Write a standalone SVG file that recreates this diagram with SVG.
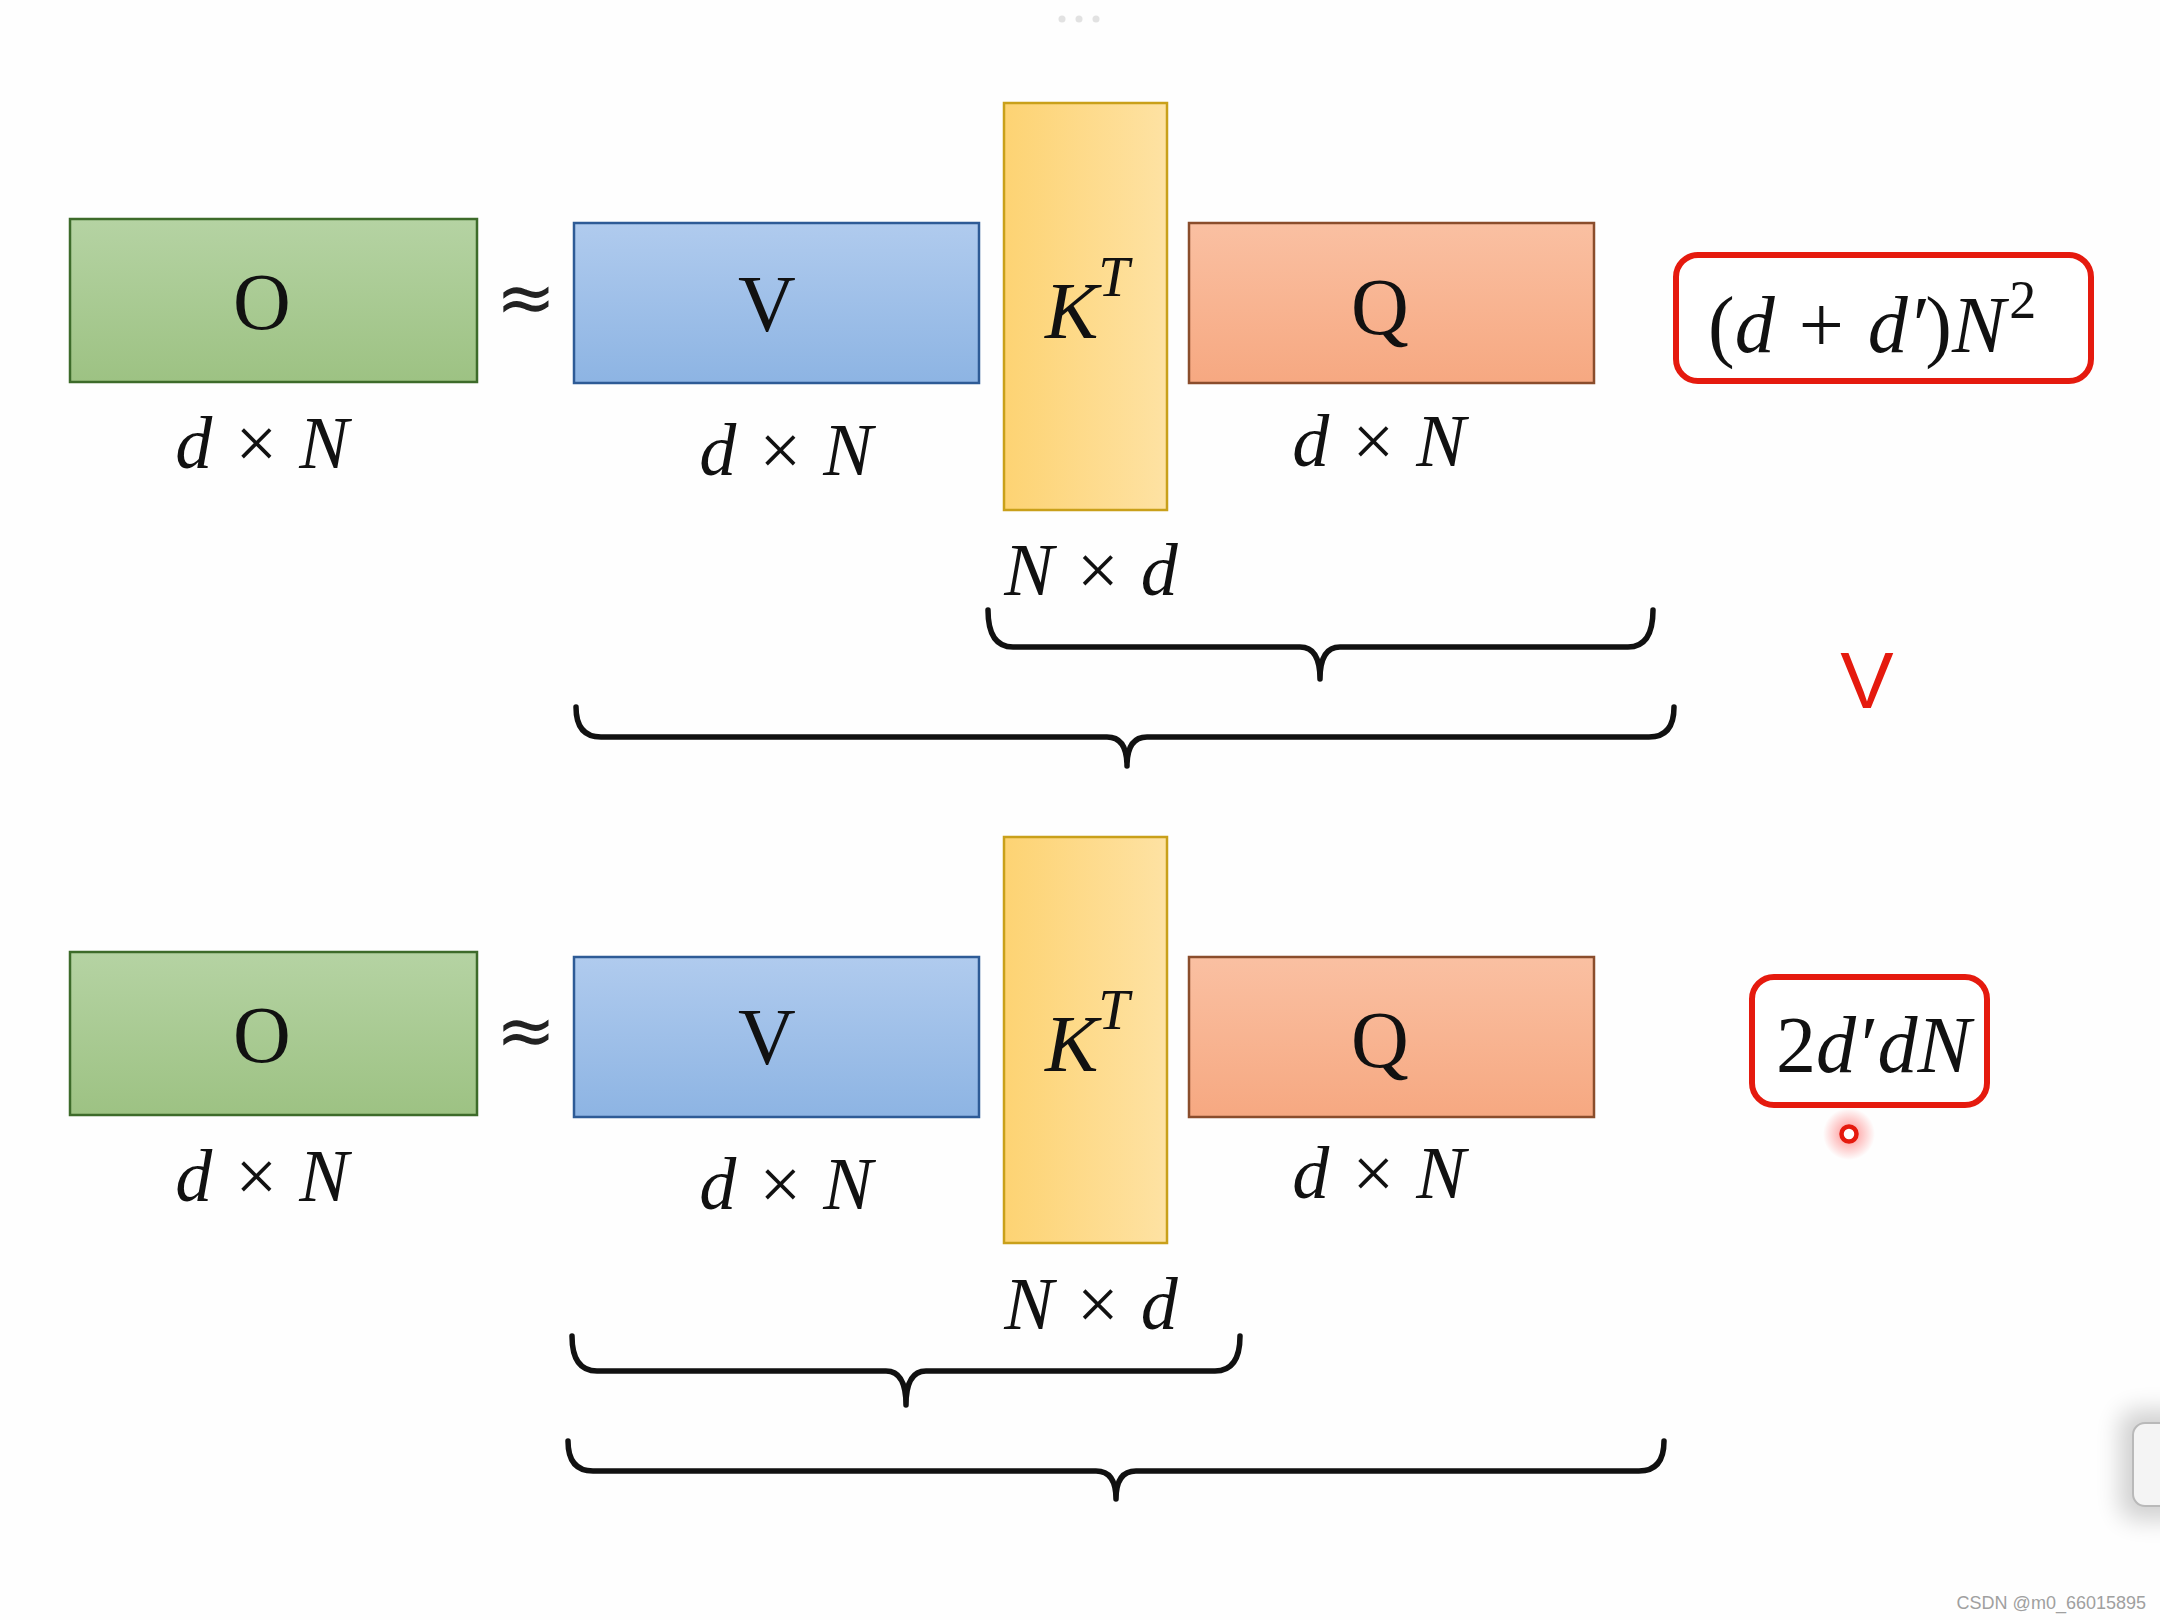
<svg xmlns="http://www.w3.org/2000/svg" width="2160" height="1620" viewBox="0 0 2160 1620">
<defs>
<linearGradient id="gG" x1="0" y1="0" x2="0" y2="1"><stop offset="0" stop-color="#b5d3a3"/><stop offset="1" stop-color="#9dc283"/></linearGradient>
<linearGradient id="gB" x1="0" y1="0" x2="0" y2="1"><stop offset="0" stop-color="#b0cbee"/><stop offset="1" stop-color="#8db4e3"/></linearGradient>
<linearGradient id="gY" x1="0" y1="0" x2="1" y2="0"><stop offset="0" stop-color="#fdd373"/><stop offset="1" stop-color="#fee2a3"/></linearGradient>
<linearGradient id="gO" x1="0" y1="0" x2="0" y2="1"><stop offset="0" stop-color="#fac0a2"/><stop offset="1" stop-color="#f6a881"/></linearGradient>
<radialGradient id="glow"><stop offset="0" stop-color="#ff3030" stop-opacity="0.55"/><stop offset="1" stop-color="#ff3030" stop-opacity="0"/></radialGradient>
<filter id="sh" x="-2" y="-1" width="5" height="3"><feGaussianBlur stdDeviation="12"/></filter>
<style>
.g{fill:url(#gG);stroke:#3d6b2a;stroke-width:2.5}
.b{fill:url(#gB);stroke:#2e5b96;stroke-width:2.5}
.y{fill:url(#gY);stroke:#c9a01a;stroke-width:2.5}
.o{fill:url(#gO);stroke:#8a4d2c;stroke-width:2.5}
.up{font-family:"Liberation Serif","DejaVu Serif",serif;font-size:80px;fill:#111;text-anchor:middle}
.it{font-family:"Liberation Serif","DejaVu Serif",serif;font-style:italic;fill:#111}
.dim{font-size:74px;text-anchor:middle}
.ap{font-family:"DejaVu Sans","Liberation Sans",sans-serif;font-size:72px;fill:#222;text-anchor:middle}
.br{fill:none;stroke:#111;stroke-width:5.5;stroke-linecap:round;stroke-linejoin:round}
.red{fill:#fff;stroke:#e51a0e;stroke-width:6}
</style>
</defs>
<rect width="2160" height="1620" fill="#fefefe"/>
<g id="topdots" fill="#e2e2e2"><circle cx="1062" cy="19" r="3.5"/><circle cx="1079" cy="19" r="3.5"/><circle cx="1096" cy="19" r="3.5"/></g>

<!-- Top row -->
<g id="O1"><rect class="g" x="70" y="219" width="407" height="163"/><text class="up" x="262" y="329">O</text><text class="it dim" x="262" y="468">d × N</text></g>
<g id="approx1"><text class="ap" x="526" y="322">≈</text></g>
<g id="V1"><rect class="b" x="574" y="223" width="405" height="160"/><text class="up" x="767" y="331">V</text><text class="it dim" x="786" y="475">d × N</text></g>
<g id="K1"><rect class="y" x="1004" y="103" width="163" height="407"/><text class="it" font-size="80" x="1045" y="338">K<tspan font-size="56" dy="-42">T</tspan></text><text class="it dim" x="1091" y="595">N × d</text></g>
<g id="Q1"><rect class="o" x="1189" y="223" width="405" height="160"/><text class="up" x="1380" y="334">Q</text><text class="it dim" x="1379" y="466">d × N</text></g>
<g id="cost1"><rect class="red" x="1676" y="255" width="415" height="126" rx="22"/><text class="it" font-size="80" x="1708" y="352" word-spacing="4"><tspan font-style="normal">(</tspan>d<tspan font-style="normal"> + </tspan>d′<tspan font-style="normal">)</tspan>N<tspan font-style="normal" font-size="54" dx="4" dy="-34">2</tspan></text></g>
<g id="cmp"><text x="1867" y="708" font-family="Liberation Sans, sans-serif" font-size="80" fill="#e51a0e" text-anchor="middle">V</text></g>

<!-- Bottom row -->
<g id="O2"><rect class="g" x="70" y="952" width="407" height="163"/><text class="up" x="262" y="1062">O</text><text class="it dim" x="262" y="1201">d × N</text></g>
<g id="approx2"><text class="ap" x="526" y="1055">≈</text></g>
<g id="V2"><rect class="b" x="574" y="957" width="405" height="160"/><text class="up" x="767" y="1064">V</text><text class="it dim" x="786" y="1209">d × N</text></g>
<g id="K2"><rect class="y" x="1004" y="837" width="163" height="406"/><text class="it" font-size="80" x="1045" y="1071">K<tspan font-size="56" dy="-42">T</tspan></text><text class="it dim" x="1091" y="1329">N × d</text></g>
<g id="Q2"><rect class="o" x="1189" y="957" width="405" height="160"/><text class="up" x="1380" y="1067">Q</text><text class="it dim" x="1379" y="1198">d × N</text></g>
<g id="cost2"><rect class="red" x="1752" y="977" width="235" height="128" rx="22"/><text class="it" font-size="80" x="1776" y="1072"><tspan font-style="normal">2</tspan>d′<tspan dx="4">dN</tspan></text></g>
<g id="cursor"><circle cx="1849" cy="1134" r="26" fill="url(#glow)"/><circle cx="1849" cy="1134" r="7.5" fill="#fff" stroke="#e51a0e" stroke-width="4.5"/></g>

<!-- Braces -->
<g id="connectors">
<path class="br" d="M988,610 Q988,647 1013,647 L1300,647 Q1320,647 1320,679 Q1320,647 1340,647 L1628,647 Q1653,647 1653,610"/>
<path class="br" d="M576,707 Q576,737 601,737 L1107,737 Q1127,737 1127,766 Q1127,737 1147,737 L1649,737 Q1674,737 1674,707"/>
<path class="br" d="M572,1336 Q572,1371 597,1371 L886,1371 Q906,1371 906,1405 Q906,1371 926,1371 L1215,1371 Q1240,1371 1240,1336"/>
<path class="br" d="M568,1441 Q568,1471 593,1471 L1096,1471 Q1116,1471 1116,1499 Q1116,1471 1136,1471 L1639,1471 Q1664,1471 1664,1441"/>
</g>

<g id="sidebtn"><rect x="2120" y="1410" width="70" height="110" rx="16" fill="#000" opacity="0.18" filter="url(#sh)"/><rect x="2133" y="1423" width="40" height="83" rx="12" fill="#f4f4f4" stroke="#b9b9b9" stroke-width="2"/></g>
<text id="wm" x="2146" y="1609" font-family="Liberation Sans, sans-serif" font-size="18" fill="#a0a0a0" text-anchor="end">CSDN @m0_66015895</text>
</svg>
